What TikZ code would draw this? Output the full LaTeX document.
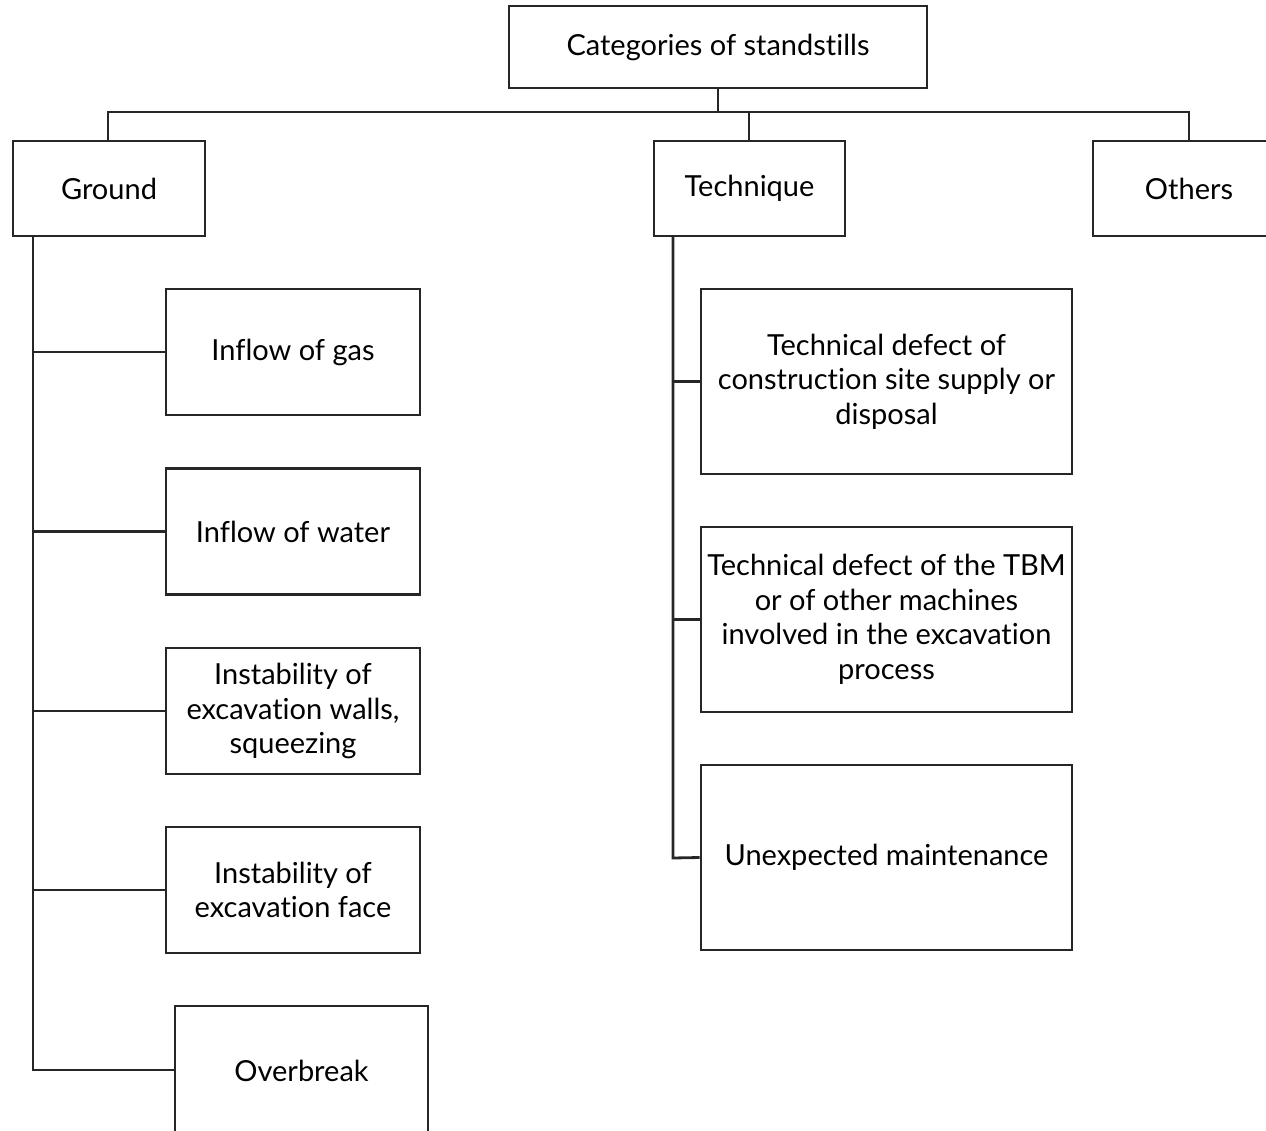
\documentclass[tikz,border=0pt]{standalone}
\usepackage{fontspec}
\setmainfont{Lato}[Ligatures=NoCommon]
\begin{document}
\begin{tikzpicture}[x=1pt,y=-1pt,
  box/.style={draw=black!85,line width=2.8pt,inner sep=0pt,align=center,font=\fontsize{29}{34.5}\selectfont},
  conn/.style={draw=black!85,line width=2.8pt}]
\useasboundingbox (0,0) rectangle (1266,1131);
\clip (0,0) rectangle (1266,1131);
% top level
\node[box,minimum width=418pt,minimum height=82pt] (root) at (718,47) {Categories of standstills};
\node[box,minimum width=192pt,minimum height=95pt] (ground) at (109,188.5) {Ground};
\node[box,minimum width=191pt,minimum height=95pt] (tech) at (749.5,188.5) {Technique};
\node[box,minimum width=192pt,minimum height=95pt] (others) at (1189,188.5) {Others};
\coordinate (bus) at (718,112);
\draw[conn] (root.south) -- (bus);
\draw[conn] (ground.north -| 108,0) |- (bus) -| (1189,141);
\draw[conn] (749,112) -- (749,141);
% ground children
\node[box,minimum width=254pt,minimum height=126pt] (g1) at (293,352) {Inflow of gas};
\node[box,minimum width=254pt,minimum height=126pt] (g2) at (293,531.5) {Inflow of water};
\node[box,minimum width=254pt,minimum height=126pt] (g3) at (293,711) {Instability of\\excavation walls,\\squeezing};
\node[box,minimum width=254pt,minimum height=126pt] (g4) at (293,890) {Instability of\\excavation face};
\node[box,minimum width=253pt,minimum height=130pt] (g5) at (301.5,1071) {Overbreak};
\coordinate (gv) at (33,1070);
\draw[conn] (33,236) -- (gv) -- (g5.west |- gv);
\draw[conn] (33,352) -- (g1.west);
\draw[conn] (33,531.5) -- (g2.west);
\draw[conn] (33,711) -- (g3.west);
\draw[conn] (33,890) -- (g4.west);
% technique children
\node[box,minimum width=371pt,minimum height=185pt] (t1) at (886.5,381.5) {Technical defect of\\construction site supply or\\disposal};
\node[box,minimum width=371pt,minimum height=185pt] (t2) at (886.5,619.5) {Technical defect of the TBM\\or of other machines\\involved in the excavation\\process};
\node[box,minimum width=371pt,minimum height=185pt] (t3) at (886.5,857.5) {Unexpected maintenance};
\draw[conn] (673,236) -- (673,858) -- (t3.west);
\draw[conn] (673,381.5) -- (t1.west);
\draw[conn] (673,619.5) -- (t2.west);
\end{tikzpicture}
\end{document}
